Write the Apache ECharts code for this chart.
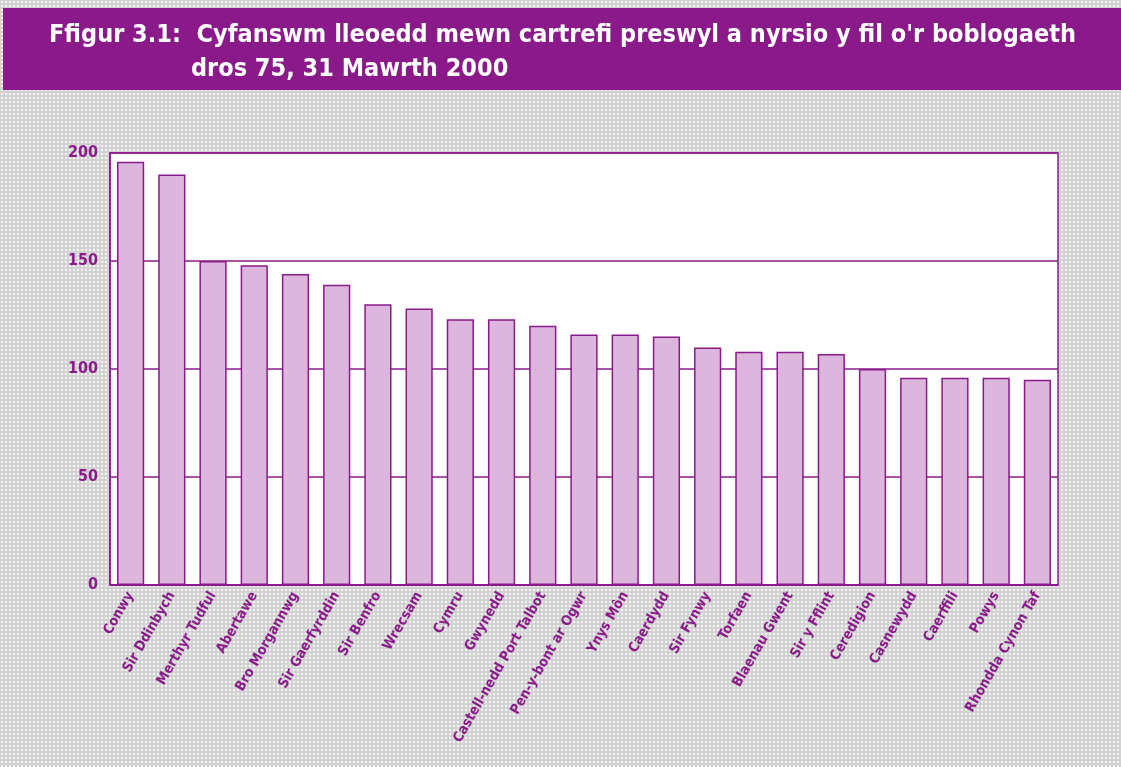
<!DOCTYPE html>
<html>
<head>
<meta charset="utf-8">
<script src="https://cdn.jsdelivr.net/npm/echarts@6/dist/echarts.min.js"></script>
<style>
  html, body { margin: 0; padding: 0; }
  body {
    background-color: #d2d2d2;
    background-image: radial-gradient(#f4f4f4 0.8px, transparent 1.2px);
    background-size: 4px 4px;
  }
  #chart { width: 1121px; height: 767px; }
</style>
</head>
<body>
<div id="chart"></div>
<script>
var areas = ['Conwy', 'Sir Ddinbych', 'Merthyr Tudful', 'Abertawe', 'Bro Morgannwg',
    'Sir Gaerfyrddin', 'Sir Benfro', 'Wrecsam', 'Cymru', 'Gwynedd',
    'Castell-nedd Port Talbot', 'Pen-y-bont ar Ogwr', 'Ynys Môn', 'Caerdydd', 'Sir Fynwy',
    'Torfaen', 'Blaenau Gwent', 'Sir y Fflint', 'Ceredigion', 'Casnewydd',
    'Caerffili', 'Powys', 'Rhondda Cynon Taf'];
var places = [196, 190, 150, 148, 144, 139, 130, 128, 123, 123, 120, 116, 116, 115, 110,
    108, 108, 107, 100, 96, 96, 96, 95];
var yTicks = [0, 50, 100, 150, 200];

var purple = '#8a1a8a';
var titleFont = { color: '#fff', fontSize: 25, fontWeight: 'bold', fontFamily: 'DejaVu Sans Condensed, sans-serif' };
var chart = echarts.init(document.getElementById('chart'));
var option = {
    title: [{
        text: "Ffigur 3.1:  Cyfanswm lleoedd mewn cartrefi preswyl a nyrsio y fil o'r boblogaeth",
        left: 44, top: 18,
        textStyle: titleFont
    }, {
        text: 'dros 75, 31 Mawrth 2000',
        left: 186, top: 52,
        textStyle: titleFont
    }],
    graphic: [{
        type: 'rect', z: -1,
        shape: { x: 3, y: 8, width: 1118, height: 82 },
        style: { fill: purple }
    }],
    grid: {
        left: 110, right: 63, top: 153, bottom: 182,
        show: true, backgroundColor: '#fff', borderColor: purple, borderWidth: 1.5
    },
    xAxis: {
        type: 'category',
        data: areas,
        axisLine: { lineStyle: { color: purple, width: 1.5 } },
        axisTick: { show: false },
        axisLabel: {
            rotate: 60, interval: 0, color: purple, fontSize: 14, fontWeight: 'bold',
            fontFamily: 'DejaVu Sans Condensed, sans-serif', margin: 8
        }
    },
    yAxis: {
        type: 'value',
        min: yTicks[0], max: yTicks[yTicks.length - 1], interval: 50,
        axisLine: { show: true, lineStyle: { color: purple, width: 1.5 } },
        axisTick: { show: false },
        axisLabel: { color: purple, fontSize: 16, fontWeight: 'bold', margin: 12, fontFamily: 'DejaVu Sans Condensed, sans-serif' },
        splitLine: { lineStyle: { color: purple, width: 1.5 } }
    },
    series: [{
        type: 'bar',
        data: places,
        barCategoryGap: '34%',
        itemStyle: { color: '#ddb6dd', borderColor: purple, borderWidth: 1.5 },
        silent: true
    }]
};
chart.setOption(option);
</script>
</body>
</html>
